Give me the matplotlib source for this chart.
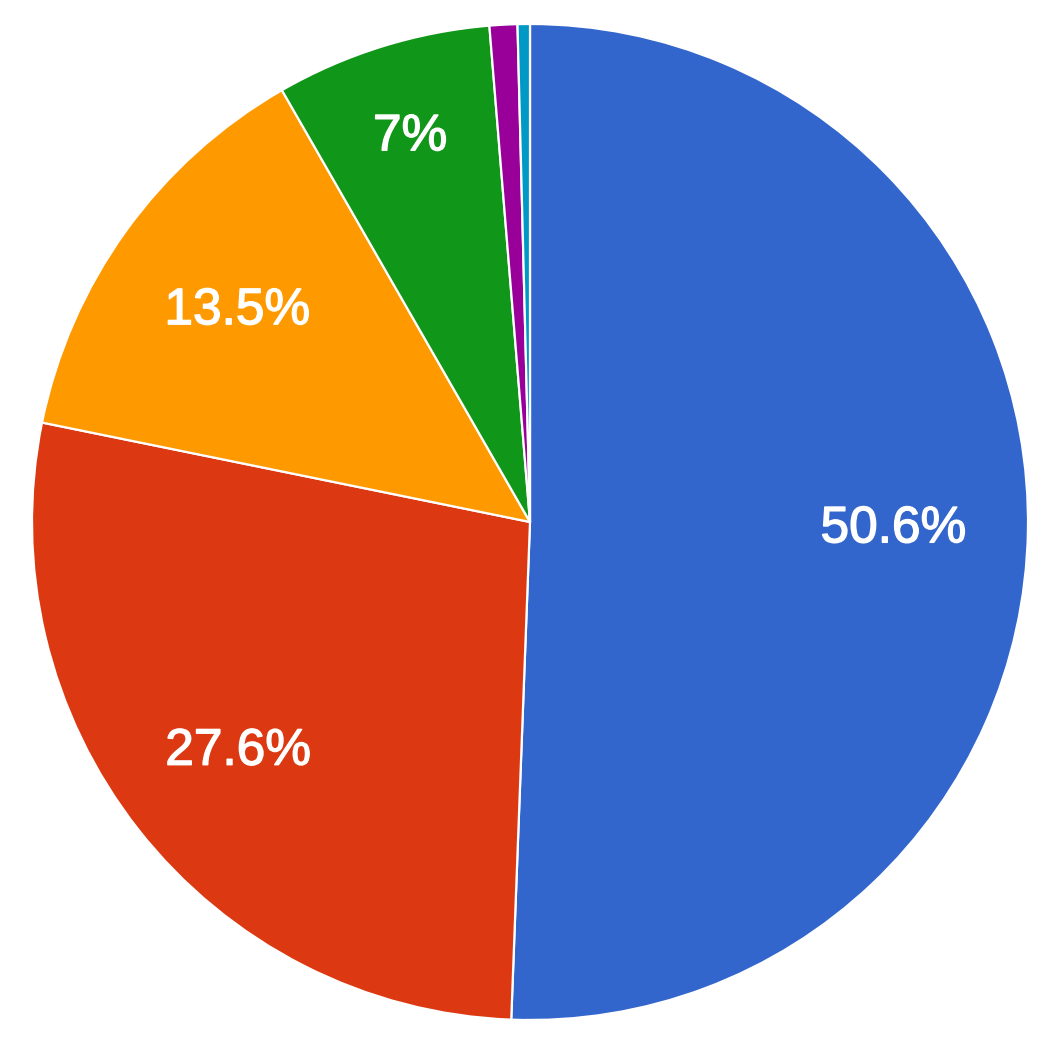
import matplotlib
matplotlib.use("Agg")
import matplotlib.pyplot as plt
import matplotlib.patheffects as pe
import numpy as np

# slice shares in percent, clockwise from 12 o'clock
shares = [50.6, 27.6, 13.5, 7.0, 0.9, 0.4]
labels = ["50.6%", "27.6%", "13.5%", "7%", "", ""]
colors = ["#3366cc", "#dc3912", "#ff9900", "#109618", "#990099", "#0099c6"]
label_dist = [0.73, 0.745, 0.725, 0.81, 0.7, 0.7]

W, H = 1059, 1039
fig = plt.figure(figsize=(W / 100, H / 100), dpi=100)
cx, cy, R = 530, 522, 498
ax = fig.add_axes([(cx - R) / W, (H - cy - R) / H, 2 * R / W, 2 * R / H])

wedges, _ = ax.pie(shares, colors=colors, startangle=90, counterclock=False,
                   radius=1.0, wedgeprops=dict(edgecolor="white", linewidth=1.6))
ax.set_xlim(-1, 1)
ax.set_ylim(-1, 1)
ax.axis("off")

for w, lab, d in zip(wedges, labels, label_dist):
    if not lab:
        continue
    mid = np.deg2rad((w.theta1 + w.theta2) / 2)
    ax.text(d * np.cos(mid), d * np.sin(mid), lab, ha="center", va="center",
            color="white", fontsize=37, family="Liberation Sans",
            path_effects=[pe.withStroke(linewidth=1.0, foreground="white")])

fig.savefig("out.png", dpi=100)
